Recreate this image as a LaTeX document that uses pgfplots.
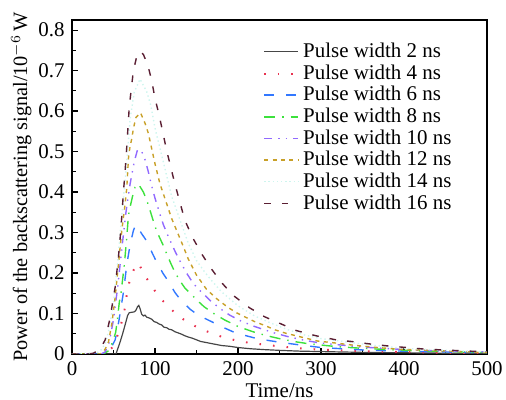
\documentclass[border=0pt]{standalone}
\usepackage{fontspec}
\setmainfont{Liberation Serif}
\usepackage{pgfplots}
\pgfplotsset{compat=1.18}
\usepackage{pgfplotstable}

\definecolor{pwtwo}{RGB}{70,70,70}
\definecolor{pwfour}{RGB}{232,50,80}
\definecolor{pwsix}{RGB}{50,120,255}
\definecolor{pweight}{RGB}{60,225,60}
\definecolor{pwten}{RGB}{145,105,255}
\definecolor{pwtwelve}{RGB}{200,160,40}
\definecolor{pwfourteen}{RGB}{205,245,238}
\definecolor{pwsixteen}{RGB}{90,30,50}

\pgfplotstableread{
t y
0 0
20 0
40 0
50 0
53 0.000
55 0.012
58 0.03
61 0.05
64 0.072
67 0.095
69 0.102
72 0.103
75 0.104
77 0.108
79 0.117
80.5 0.12
82 0.112
84 0.098
86 0.094
88 0.096
90 0.091
93 0.089
96 0.086
99 0.08
102 0.078
105 0.074
108 0.072
111 0.066
114 0.065
117 0.061
120 0.06
124 0.055
128 0.052
132 0.049
136 0.045
140 0.042
145 0.039
150 0.035
155 0.031
160 0.029
170 0.025
180 0.021
190 0.019
200 0.016
215 0.013
230 0.011
250 0.009
275 0.007
300 0.006
350 0.004
400 0.003
450 0.002
500 0.001
}\dA

\pgfplotstableread{
t y
0 0
35 0
42 0.004
48 0.015
53 0.035
57 0.06
60 0.08
63 0.105
67 0.16
71 0.194
75 0.21
80 0.225
87 0.196
96 0.168
105 0.14
115 0.12
127 0.095
140 0.078
150 0.067
160 0.058
170 0.050
184 0.040
199 0.033
215 0.027
232 0.023
249 0.019
264 0.016
281 0.013
298 0.011
325 0.009
350 0.007
400 0.005
450 0.003
500 0.002
}\dB

\pgfplotstableread{
t y
0 0
35 0
42 0.005
47 0.015
52 0.035
56.5 0.082
61.7 0.149
66 0.22
70 0.27
74 0.305
77 0.32
80 0.31
84 0.297
90 0.279
97 0.248
102 0.227
110 0.198
116 0.18
124 0.152
130 0.136
142 0.111
150 0.099
160 0.088
170 0.078
183 0.065
196 0.053
210 0.045
223 0.038
250 0.029
276 0.022
300 0.016
350 0.010
400 0.007
450 0.005
500 0.003
}\dC

\pgfplotstableread{
t y
0 0
38 0
44 0.008
48 0.025
52.6 0.053
55 0.09
57 0.128
59 0.15
63 0.219
66 0.289
68 0.342
70 0.363
73 0.39
76 0.412
80 0.42
86 0.40
90 0.38
94 0.355
100 0.315
105 0.29
110 0.268
114 0.248
119 0.224
124 0.202
130 0.181
136 0.163
144 0.147
150 0.134
159 0.117
170 0.101
184 0.084
200 0.068
218 0.055
235 0.045
252 0.037
270 0.030
286 0.025
320 0.018
350 0.014
400 0.009
450 0.006
500 0.004
}\dD

\pgfplotstableread{
t y
0 0
35 0
40 0.005
45 0.03
50 0.085
55 0.165
60 0.26
65 0.35
70 0.42
75 0.475
79 0.505
84 0.50
88 0.48
92 0.45
96 0.415
100 0.385
106 0.345
110 0.32
115 0.295
120 0.272
125 0.25
130 0.23
138 0.2
144 0.181
150 0.165
160 0.145
168 0.129
180 0.11
190 0.096
204 0.081
220 0.068
242 0.053
260 0.043
282 0.033
300 0.027
350 0.017
400 0.011
450 0.007
500 0.005
}\dE

\pgfplotstableread{
t y
0 0
33 0
36 0.002
40 0.012
44 0.03
48 0.075
52 0.14
56 0.223
60 0.305
64 0.371
66 0.41
68 0.483
69.5 0.507
72 0.532
74 0.557
77 0.584
82.5 0.596
88 0.57
92 0.545
100 0.47
106 0.42
110 0.396
120 0.335
132 0.276
140 0.235
150 0.195
162 0.16
174 0.137
188 0.115
199 0.101
210 0.09
220 0.08
234 0.069
244 0.06
258 0.051
270 0.045
282 0.039
296 0.032
318 0.027
342 0.021
368 0.016
393 0.012
417 0.010
443 0.008
467 0.006
491 0.004
500 0.004
}\dF

\pgfplotstableread{
t y
0 0
30 0.003
35 0.01
40 0.025
45 0.064
50 0.127
55 0.227
60 0.343
65 0.45
70 0.58
75 0.647
82 0.679
90 0.648
95 0.614
100 0.558
110 0.475
120 0.39
130 0.332
140 0.274
150 0.231
160 0.202
170 0.177
180 0.154
200 0.119
220 0.094
240 0.076
260 0.06
280 0.047
300 0.038
330 0.03
360 0.022
400 0.014
450 0.009
500 0.005
}\dG

\pgfplotstableread{
t y
0 0
20 0
26 0.002
32 0.01
36 0.02
40 0.035
46 0.09
52 0.165
56 0.24
59 0.31
62 0.40
65 0.48
69 0.61
72 0.665
74 0.70
78 0.735
82 0.748
86 0.74
90 0.72
93 0.70
96 0.676
100 0.631
105 0.59
114 0.503
124 0.42
136 0.33
146 0.285
156 0.248
168 0.21
180 0.177
194 0.145
214 0.114
232 0.092
250 0.076
270 0.058
294 0.045
318 0.035
336 0.031
358 0.025
380 0.020
403 0.016
425 0.012
447 0.010
469 0.008
491 0.006
500 0.005
}\dH

\begin{document}
\fontsize{10.5}{12.6}\selectfont
\begin{tikzpicture}
\begin{axis}[
  scale only axis,
  width=207.5bp, height=167bp,
  xmin=0, xmax=500, ymin=0, ymax=0.825,
  xtick={0,100,200,300,400,500},
  ytick={0,0.1,0.2,0.3,0.4,0.5,0.6,0.7,0.8},
  yticklabels={0,0.1,0.2,0.3,0.4,0.5,0.6,0.7,0.8},
  minor x tick num=1, minor y tick num=1,
  tick align=inside, tick pos=left,
  major tick length=3bp, minor tick length=1.8bp,
  axis line style={line width=0.7pt},
  every tick/.style={black, line width=0.6pt},
  /pgf/number format/assume math mode=true,
  tick label style={font=\rmfamily\fontsize{10.5}{12}\selectfont},
  xlabel style={font=\rmfamily\fontsize{10.5}{12}\selectfont, yshift=3bp},
  ylabel style={font=\rmfamily\fontsize{10.2}{12}\selectfont, yshift=-3.75bp},
  xlabel={Time/ns},
  ylabel={Power of the backscattering signal/10$^{-6}$\,W},
  legend style={draw=none, fill=none, at={(rel axis cs:0.455,0.95)}, anchor=north west,
    font=\rmfamily\fontsize{10.5}{10}\selectfont, row sep=-2.0pt, inner sep=1pt},
  legend cell align=left,
  every axis plot/.append style={line width=0.7pt},
]
\addplot[color=pwtwo, solid, line width=0.6pt] table[x=t,y=y]{\dA};
\addlegendentry{Pulse width 2 ns}
\addplot[color=pwfour, dash pattern=on 0.8bp off 6bp, line width=1pt] table[x=t,y=y]{\dB};
\addlegendentry{Pulse width 4 ns}
\addplot[color=pwsix, dash pattern=on 5bp off 6bp] table[x=t,y=y]{\dC};
\addlegendentry{Pulse width 6 ns}
\addplot[color=pweight, dash pattern=on 5.5bp off 3.5bp on 0.7bp off 3.5bp] table[x=t,y=y]{\dD};
\addlegendentry{Pulse width 8 ns}
\addplot[color=pwten, dash pattern=on 4bp off 3bp on 0.7bp off 3bp on 0.7bp off 3bp] table[x=t,y=y]{\dE};
\addlegendentry{Pulse width 10 ns}
\addplot[color=pwtwelve, dash pattern=on 2bp off 2.2bp] table[x=t,y=y]{\dF};
\addlegendentry{Pulse width 12 ns}
\addplot[color=pwfourteen, dash pattern=on 0.7bp off 1.4bp] table[x=t,y=y]{\dG};
\addlegendentry{Pulse width 14 ns}
\addplot[color=pwsixteen, dash pattern=on 3.3bp off 5.5bp] table[x=t,y=y]{\dH};
\addlegendentry{Pulse width 16 ns}
\end{axis}
\pgfresetboundingbox
\path ([xshift=-36bp,yshift=-23bp]current axis.south west) rectangle ([xshift=9.5bp,yshift=10bp]current axis.north east);
\end{tikzpicture}
\end{document}
